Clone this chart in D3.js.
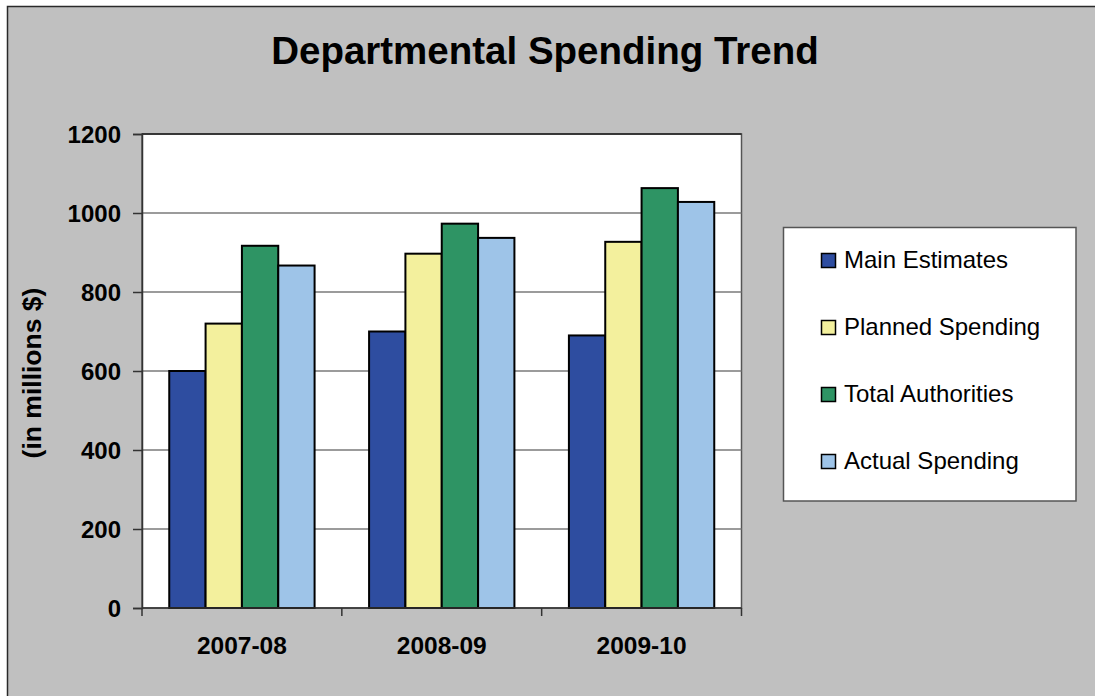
<!DOCTYPE html>
<html>
<head>
<meta charset="utf-8">
<script src="https://cdn.jsdelivr.net/npm/d3@7"></script>
<style>
  html, body { margin: 0; padding: 0; background: #ffffff; }
  svg { display: block; font-family: "Liberation Sans", Arial, sans-serif; }
</style>
</head>
<body>
<svg id="chart" width="1095" height="696"></svg>
<script>
// Fiscal years on the category axis
const years = ["2007-08", "2008-09", "2009-10"];
// Spending series, in millions of dollars
const seriesNames = ["Main Estimates", "Planned Spending", "Total Authorities", "Actual Spending"];
const mainEstimates    = [600, 700, 690];
const plannedSpending  = [720, 897, 927];
const totalAuthorities = [917, 973, 1063];
const actualSpending   = [867, 937, 1028];
const yTicks = [0, 200, 400, 600, 800, 1000, 1200];
const seriesColors = ["#2e4da0", "#f3f09d", "#2e9464", "#9ec4e8"];

const seriesValues = [mainEstimates, plannedSpending, totalAuthorities, actualSpending];
const rows = years.map((yr, i) => ({
  year: yr,
  values: seriesNames.map((name, s) => ({ name, value: seriesValues[s][i], color: seriesColors[s] }))
}));

const svg = d3.select("#chart");

// chart area frame
svg.append("rect")
  .attr("x", 7.5).attr("y", 6.5)
  .attr("width", 1200).attr("height", 800)
  .attr("fill", "#c0c0c0")
  .attr("stroke", "#2a2a2a").attr("stroke-width", 1.5);

// title
svg.append("text")
  .attr("x", 545).attr("y", 64)
  .attr("text-anchor", "middle")
  .attr("font-size", 38.5).attr("font-weight", "bold")
  .text("Departmental Spending Trend");

// plot area
const plot = { left: 142, top: 134, right: 741.5, bottom: 608 };
const W = plot.right - plot.left, H = plot.bottom - plot.top;

const x0 = d3.scaleBand().domain(years).range([plot.left, plot.right]).paddingInner(0).paddingOuter(0);
const x1 = d3.scaleBand().domain(seriesNames).range([0, x0.bandwidth()]).paddingInner(0).paddingOuter(0.75);
const y = d3.scaleLinear().domain([0, 1200]).range([plot.bottom, plot.top]);

svg.append("rect")
  .attr("x", plot.left).attr("y", plot.top)
  .attr("width", W).attr("height", H)
  .attr("fill", "#ffffff")
  .attr("stroke", "#555555").attr("stroke-width", 1.5);
// darker top edge
svg.append("line")
  .attr("x1", plot.left).attr("x2", plot.right)
  .attr("y1", plot.top).attr("y2", plot.top)
  .attr("stroke", "#222").attr("stroke-width", 1.5);

// gridlines
svg.append("g")
  .selectAll("line")
  .data(yTicks.filter(t => t > 0 && t < 1200))
  .join("line")
  .attr("x1", plot.left).attr("x2", plot.right)
  .attr("y1", d => y(d)).attr("y2", d => y(d))
  .attr("stroke", "#7a7a7a").attr("stroke-width", 1.5);

// bars
const groups = svg.append("g")
  .selectAll("g")
  .data(rows)
  .join("g")
  .attr("transform", d => `translate(${x0(d.year)},0)`);

groups.selectAll("rect")
  .data(d => d.values)
  .join("rect")
  .attr("x", d => x1(d.name))
  .attr("y", d => y(d.value))
  .attr("width", x1.bandwidth())
  .attr("height", d => y(0) - y(d.value))
  .attr("fill", d => d.color)
  .attr("stroke", "#000").attr("stroke-width", 2);

// y axis
const yAxis = d3.axisLeft(y).tickValues(yTicks).tickSize(9).tickPadding(12).tickFormat(d3.format("d"));
const gy = svg.append("g").attr("transform", `translate(${plot.left},0)`).call(yAxis);
gy.select(".domain").attr("stroke", "#333").attr("stroke-width", 1.5);
gy.selectAll(".tick line").attr("stroke", "#333").attr("stroke-width", 1.5);
gy.selectAll(".tick text")
  .attr("font-family", "Liberation Sans, Arial, sans-serif")
  .attr("font-size", 24).attr("font-weight", "bold").attr("fill", "#000")
  .attr("dy", "0.36em");

// x axis: ticks at category boundaries
const gx = svg.append("g").attr("transform", `translate(0,${plot.bottom})`);
gx.append("line")
  .attr("x1", plot.left).attr("x2", plot.right)
  .attr("y1", 0).attr("y2", 0)
  .attr("stroke", "#333").attr("stroke-width", 1.5);
const boundaries = years.map(yr => x0(yr)).concat([plot.right]);
gx.selectAll("line.tick")
  .data(boundaries)
  .join("line")
  .attr("class", "tick")
  .attr("x1", d => d).attr("x2", d => d)
  .attr("y1", 0).attr("y2", 8)
  .attr("stroke", "#333").attr("stroke-width", 1.5);
gx.selectAll("text")
  .data(years)
  .join("text")
  .attr("x", d => x0(d) + x0.bandwidth() / 2)
  .attr("y", 46)
  .attr("text-anchor", "middle")
  .attr("font-size", 24.5).attr("font-weight", "bold")
  .text(d => d);

// y axis title
svg.append("text")
  .attr("transform", "translate(41,373) rotate(-90)")
  .attr("text-anchor", "middle")
  .attr("font-size", 26.5).attr("font-weight", "bold")
  .text("(in millions $)");

// legend
const legend = svg.append("g");
legend.append("rect")
  .attr("x", 783.5).attr("y", 227.5)
  .attr("width", 292.5).attr("height", 273.5)
  .attr("fill", "#ffffff")
  .attr("stroke", "#555").attr("stroke-width", 1.5);
const items = legend.selectAll("g.item")
  .data(seriesNames.map((n, i) => ({ name: n, color: seriesColors[i] })))
  .join("g")
  .attr("class", "item")
  .attr("transform", (d, i) => `translate(0,${268 + i * 67})`);
items.append("rect")
  .attr("x", 821.5).attr("y", -14.5)
  .attr("width", 14).attr("height", 14)
  .attr("fill", d => d.color)
  .attr("stroke", "#000").attr("stroke-width", 1.5);
items.append("text")
  .attr("x", 844).attr("y", 0)
  .attr("font-size", 24)
  .text(d => d.name);
</script>
</body>
</html>
